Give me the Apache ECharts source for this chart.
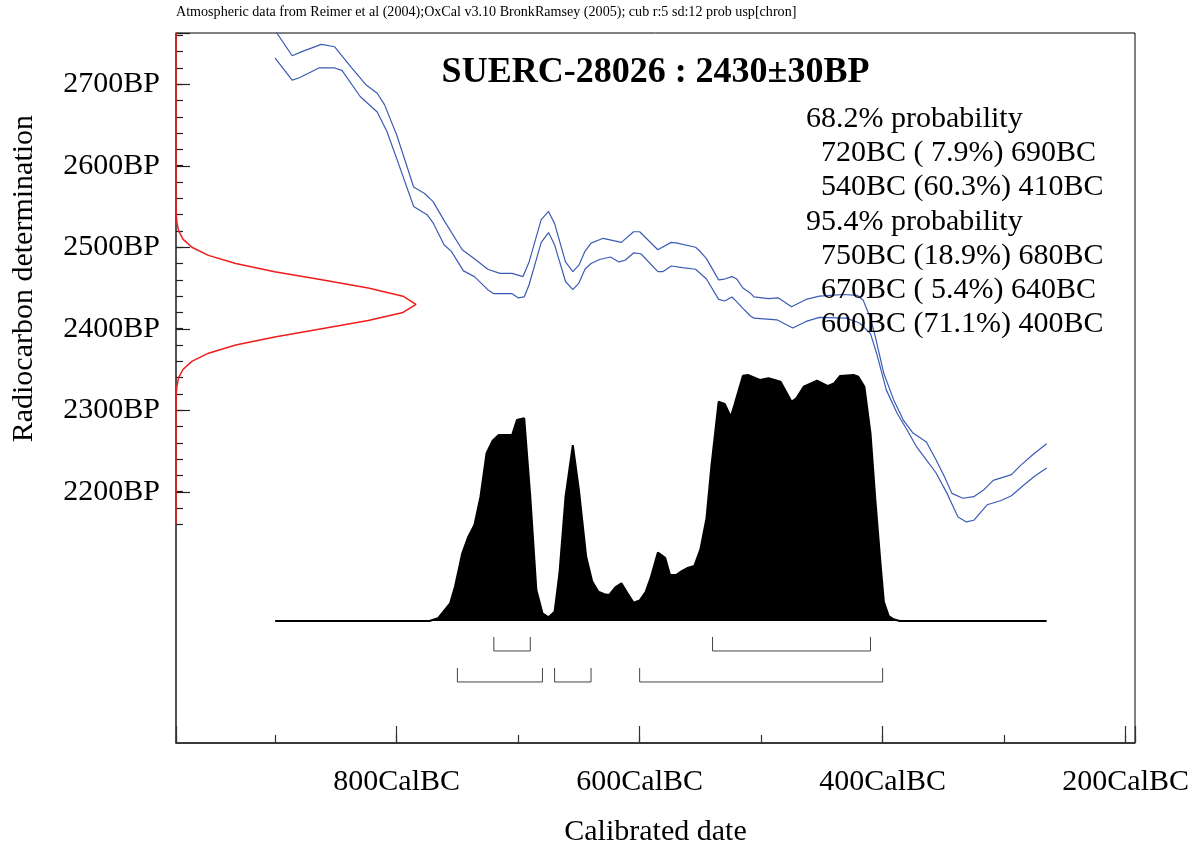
<!DOCTYPE html>
<html>
<head>
<meta charset="utf-8">
<script src="https://cdn.jsdelivr.net/npm/echarts@6/dist/echarts.min.js"></script>
<style>
html,body{margin:0;padding:0;background:#fff;}
#chart{width:1204px;height:845px;}
</style>
</head>
<body>
<div id="chart"></div>
<script>
// ---- data (years in BC, radiocarbon ages in BP) ----
const captionText = 'Atmospheric data from Reimer et al (2004);OxCal v3.10 BronkRamsey (2005); cub r:5 sd:12 prob usp[chron]';
const titleText = 'SUERC-28026 : 2430\u00b130BP';
const resultLines = [
  '68.2% probability',
  '  720BC ( 7.9%) 690BC',
  '  540BC (60.3%) 410BC',
  '95.4% probability',
  '  750BC (18.9%) 680BC',
  '  670BC ( 5.4%) 640BC',
  '  600BC (71.1%) 400BC'
];
const xAxisName = 'Calibrated date';
const yAxisName = 'Radiocarbon determination';

// calibration curve, upper and lower bands [year BC, BP]
const calUpper = [[900,2766],[886,2735],[878,2740],[862,2749],[851,2746],[837,2720],[825,2699],[816,2689],[810,2675],[800,2638],[786,2574],[777,2566],[770,2556],[761,2533],[746,2497],[736,2486],[725,2473],[715,2468],[705,2468],[696,2464],[691,2482],[681,2534],[675,2544],[670,2529],[661,2482],[655,2470],[650,2478],[645,2495],[640,2505],[630,2511],[615,2506],[605,2519],[600,2519],[585,2497],[574,2506],[569,2505],[554,2500],[551,2496],[545,2486],[535,2460],[530,2461],[524,2464],[520,2461],[515,2450],[509,2444],[506,2439],[494,2437],[486,2438],[475,2427],[463,2436],[452,2440],[432,2442],[421,2441],[416,2435],[410,2413],[406,2390],[399,2345],[391,2313],[383,2288],[375,2272],[364,2261],[356,2239],[349,2218],[343,2198],[334,2192],[325,2194],[317,2202],[309,2214],[294,2221],[286,2233],[276,2246],[265,2259]];
const calLower = [[900,2732],[886,2705],[880,2708],[864,2720],[851,2720],[845,2717],[830,2685],[816,2666],[808,2642],[800,2609],[786,2550],[775,2540],[770,2530],[761,2503],[755,2495],[745,2471],[736,2464],[725,2448],[720,2443],[705,2443],[700,2438],[695,2439],[691,2454],[681,2506],[675,2518],[670,2503],[661,2458],[655,2448],[650,2456],[645,2473],[640,2480],[633,2485],[624,2488],[617,2482],[612,2484],[605,2493],[599,2492],[585,2470],[581,2470],[574,2477],[565,2475],[554,2473],[545,2461],[535,2436],[530,2434],[524,2439],[520,2433],[515,2425],[509,2416],[506,2413],[487,2411],[474,2401],[463,2409],[452,2414],[430,2413],[419,2407],[410,2394],[405,2370],[397,2325],[388,2296],[380,2276],[372,2255],[364,2239],[356,2223],[347,2198],[342,2182],[338,2169],[331,2163],[325,2165],[314,2184],[303,2189],[294,2195],[284,2208],[275,2219],[265,2229]];

// calibrated probability distribution [year BC, relative probability]
const calProb = [[900,0],[773,0],[766,0.011],[756,0.072],[752,0.139],[746,0.275],[741,0.343],[736,0.390],[731,0.505],[726,0.682],[721,0.733],[716,0.756],[705,0.756],[701,0.817],[695,0.824],[690,0.505],[685,0.126],[680,0.031],[675,0.015],[670,0.038],[666,0.194],[661,0.505],[655,0.715],[650,0.533],[644,0.261],[639,0.160],[634,0.119],[629,0.109],[625,0.106],[620,0.137],[615,0.153],[610,0.113],[605,0.074],[600,0.083],[595,0.119],[591,0.174],[585,0.278],[579,0.257],[575,0.187],[570,0.187],[565,0.204],[560,0.217],[555,0.224],[550,0.291],[545,0.417],[541,0.627],[535,0.891],[530,0.882],[525,0.830],[522,0.878],[515,0.997],[511,1.000],[501,0.980],[494,0.987],[484,0.973],[475,0.891],[471,0.905],[465,0.952],[454,0.977],[445,0.955],[440,0.966],[435,0.996],[424,1.000],[420,0.993],[415,0.952],[410,0.763],[406,0.492],[402,0.248],[399,0.078],[395,0.020],[391,0.007],[386,0],[265,0]];

// radiocarbon measurement distribution [relative probability, BP]
const c14Prob = [[0,2160],[0,2300],[0.001,2320],[0.004,2330],[0.011,2340],[0.029,2350],[0.066,2360],[0.135,2370],[0.249,2380],[0.411,2390],[0.607,2400],[0.801,2410],[0.946,2420],[1,2430],[0.946,2440],[0.801,2450],[0.607,2460],[0.411,2470],[0.249,2480],[0.135,2490],[0.066,2500],[0.029,2510],[0.011,2520],[0.004,2530],[0.001,2540],[0,2560],[0,2763]];

// ranges [from BC, to BC]
const ranges68 = [[720,690],[540,410]];
const ranges95 = [[750,680],[670,640],[600,400]];

// ---- chart ----
const SERIF = '"Liberation Serif","Times New Roman",serif';
const X_MIN = 192.3, X_MAX = 981.6;
const BP_MIN = 1891.7, BP_MAX = 2762.9;

const bracketData = ranges68.map(r => [r[0], r[1], 0]).concat(ranges95.map(r => [r[0], r[1], 1]));

const chart = echarts.init(document.getElementById('chart'), null, {renderer: 'canvas'});
const gridBase = {left: 176, top: 33, width: 959, outerBoundsMode: 'none', containLabel: false};
const option = {
  animation: false,
  backgroundColor: '#fff',
  grid: [
    Object.assign({}, gridBase, {height: 710, show: true, borderColor: '#000', borderWidth: 1, backgroundColor: 'transparent'}),
    Object.assign({}, gridBase, {height: 491.3}),
    Object.assign({}, gridBase, {height: 458.75})
  ],
  xAxis: [
    {gridIndex: 0, type: 'value', position: 'bottom', inverse: true, min: X_MIN, max: X_MAX, splitNumber: 8, minInterval: 100, maxInterval: 100,
     axisLine: {onZero: false, lineStyle: {color: '#222', width: 1.5}},
     axisTick: {inside: true, length: 8, lineStyle: {color: '#333', width: 1.2}},
     axisLabel: {margin: 24, fontFamily: SERIF, fontSize: 30, color: '#000',
       formatter: v => (Math.abs(v % 200) < 0.01 ? Math.round(v) + 'CalBC' : '')},
     splitLine: {show: false},
     name: xAxisName, nameLocation: 'middle', nameGap: 74,
     nameTextStyle: {fontFamily: SERIF, fontSize: 30, color: '#000'}},
    {gridIndex: 0, type: 'value', position: 'bottom', inverse: true, min: X_MIN, max: X_MAX, splitNumber: 4, minInterval: 200, maxInterval: 200,
     axisLine: {show: false, onZero: false},
     axisTick: {inside: true, length: 17, lineStyle: {color: '#333', width: 1.2}},
     axisLabel: {show: false}, splitLine: {show: false}},
    {gridIndex: 0, type: 'value', position: 'bottom', min: 0, max: 3.996, show: false, axisLine: {onZero: false}},
    {gridIndex: 1, type: 'value', min: 0, max: 1, show: false},
    {gridIndex: 2, type: 'value', min: 0, max: 1, show: false}
  ],
  yAxis: [
    {gridIndex: 0, type: 'value', position: 'left', min: BP_MIN, max: BP_MAX,
     axisLine: {show: true, onZero: false, lineStyle: {color: '#444', width: 1.5}},
     axisTick: {show: false}, axisLabel: {show: false}, splitLine: {show: false}},
    {gridIndex: 0, type: 'value', position: 'left', min: -0.496, max: 2.390, show: false, axisLine: {onZero: false}},
    {gridIndex: 1, type: 'value', position: 'left', min: 2160, max: BP_MAX, splitNumber: 30, minInterval: 20, maxInterval: 20,
     axisLine: {show: false, onZero: false},
     axisTick: {inside: true, length: 7, lineStyle: {color: '#222', width: 1.2}},
     axisLabel: {show: false}, splitLine: {show: false},
     name: yAxisName, nameLocation: 'middle', nameGap: 137,
     nameTextStyle: {fontFamily: SERIF, fontSize: 30, color: '#000'}},
    {gridIndex: 2, type: 'value', position: 'left', min: 2200, max: BP_MAX, splitNumber: 6, minInterval: 100, maxInterval: 100,
     axisLine: {show: false, onZero: false},
     axisTick: {inside: true, length: 14, lineStyle: {color: '#222', width: 1.2}},
     axisLabel: {margin: 16, fontFamily: SERIF, fontSize: 30, color: '#000',
       formatter: v => (Math.abs(v % 100) < 0.01 ? Math.round(v) + 'BP' : '')},
     splitLine: {show: false}}
  ],
  series: [
    {type: 'line', name: 'upper', xAxisIndex: 0, yAxisIndex: 0, data: calUpper, symbol: 'none', silent: true,
     lineStyle: {color: '#3b5cb5', width: 1.2}, z: 3},
    {type: 'line', name: 'lower', xAxisIndex: 0, yAxisIndex: 0, data: calLower, symbol: 'none', silent: true,
     lineStyle: {color: '#3b5cb5', width: 1.2}, z: 3},
    {type: 'line', name: 'prob', xAxisIndex: 0, yAxisIndex: 1, data: calProb, symbol: 'none', silent: true,
     lineStyle: {color: '#000', width: 2}, areaStyle: {color: '#000', opacity: 1, origin: 0}, z: 4},
    {type: 'custom', name: 'ranges', xAxisIndex: 0, yAxisIndex: 1, data: bracketData, silent: true, z: 4,
     renderItem: function (params, api) {
       const a = api.coord([api.value(0), 0]);
       const b = api.coord([api.value(1), 0]);
       const row = api.value(2);
       const top = a[1] + (row === 0 ? 16 : 47);
       const bot = a[1] + (row === 0 ? 30 : 61);
       return {type: 'polyline', shape: {points: [[a[0], top], [a[0], bot], [b[0], bot], [b[0], top]]},
               style: {stroke: '#444', lineWidth: 1, fill: null}};
     }},
    {type: 'line', name: 'c14', xAxisIndex: 2, yAxisIndex: 0, data: c14Prob, symbol: 'none', silent: true, clip: false,
     lineStyle: {color: '#ee1c1c', width: 1.5}, z: 6}
  ],
  graphic: [
    {type: 'text', left: 176, top: 5, style: {text: captionText, font: '14.1px ' + SERIF, fill: '#000'}},
    {type: 'text', x: 655.5, y: 73, style: {text: titleText, font: 'bold 36px ' + SERIF, fill: '#000', textAlign: 'center', textVerticalAlign: 'middle'}},
    {type: 'text', x: 806, y: 102, z: 10, style: {text: resultLines.join('\n'), font: '30px ' + SERIF, lineHeight: 34.2, fill: '#000', textAlign: 'left', textVerticalAlign: 'top'}}
  ]
};
chart.setOption(option);
</script>
</body>
</html>
